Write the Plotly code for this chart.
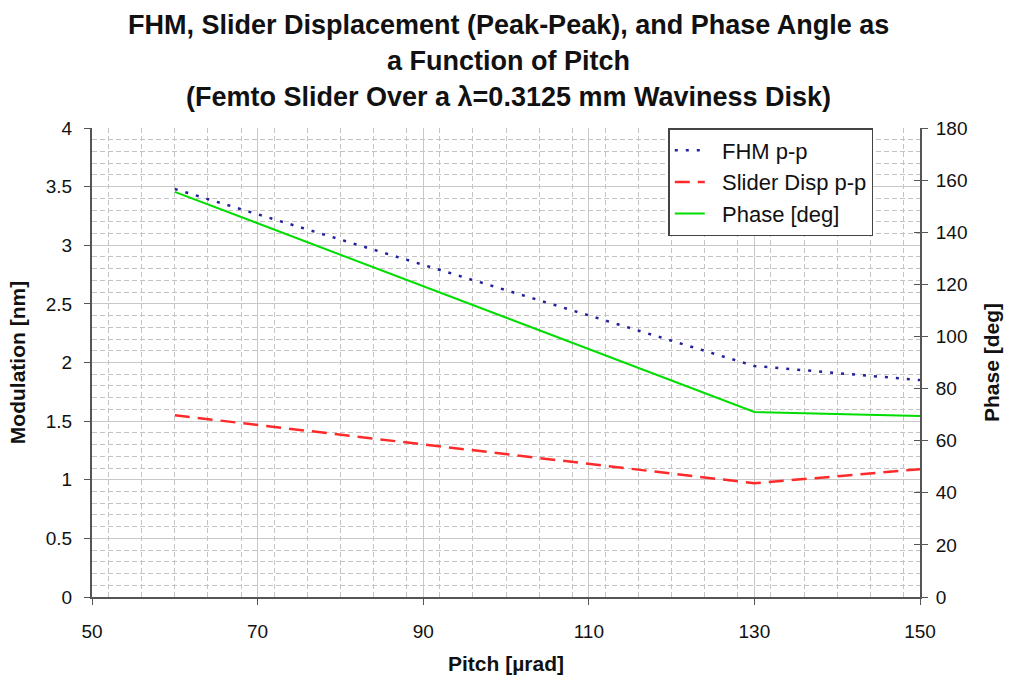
import plotly.graph_objects as go

pitch = [60, 130, 150]
fhm_pp = [3.48, 1.97, 1.85]
slider_pp = [1.55, 0.97, 1.09]
phase_deg = [155.5, 71.0, 69.5]

title_lines = [
    "FHM, Slider Displacement (Peak-Peak), and Phase Angle as",
    "a Function of Pitch",
    "(Femto Slider Over a λ=0.3125 mm Waviness Disk)",
]

font = "Liberation Sans, Arial, sans-serif"
pad = "\u00a0\u00a0"
fig = go.Figure()
fig.add_trace(go.Scatter(x=pitch, y=fhm_pp, name=pad + "FHM p-p", mode="lines",
                         line=dict(color="#22229a", width=2.5, dash="3px,8px")))
fig.add_trace(go.Scatter(x=pitch, y=slider_pp, name=pad + "Slider Disp p-p", mode="lines",
                         line=dict(color="#ff2a2a", width=2.5, dash="15px,8px")))
fig.add_trace(go.Scatter(x=pitch, y=phase_deg, name=pad + "Phase [deg]", mode="lines", yaxis="y2",
                         line=dict(color="#00dd00", width=2)))

minor_grid = dict(showgrid=True, gridcolor="#c4c4c4", griddash="5px,3px", gridwidth=1)
fig.update_layout(
    width=1011, height=683,
    margin=dict(l=92, r=91, t=128, b=86),
    paper_bgcolor="white", plot_bgcolor="white",
    font=dict(family=font, size=19, color="#111"),
    xaxis=dict(range=[50, 150], dtick=20, tick0=50, showline=True, linecolor="#555", linewidth=2,
               ticks="outside", ticklen=6, tickcolor="#555", ticklabelstandoff=10,
               showgrid=True, gridcolor="#c8c8c8", gridwidth=1, zeroline=False,
               minor=dict(dtick=4, **minor_grid),
               title=dict(text="<b>Pitch [µrad]</b>", font=dict(size=21), standoff=16)),
    yaxis=dict(range=[0, 4], dtick=0.5, showline=True, linecolor="#555", linewidth=2,
               ticks="outside", ticklen=6, tickcolor="#555", ticklabelstandoff=8,
               showgrid=True, gridcolor="#c8c8c8", gridwidth=1, zeroline=False,
               minor=dict(dtick=0.1, **minor_grid),
               title=dict(text="<b>Modulation [nm]</b>", font=dict(size=21), standoff=14)),
    yaxis2=dict(range=[0, 180], dtick=20, overlaying="y", side="right", showline=True,
                linecolor="#555", linewidth=2, ticks="outside", ticklen=6, tickcolor="#555",
                ticklabelstandoff=4, showgrid=False, zeroline=False,
                title=dict(text="<b>Phase [deg]</b>", font=dict(size=21), standoff=18)),
    yaxis3=dict(range=[0, 180], dtick=20, overlaying="y", side="right", anchor="x",
                showline=False, ticks="inside", ticklen=6, tickcolor="#555",
                showticklabels=False, showgrid=False, zeroline=False),
    legend=dict(x=0.696, y=1.0, xanchor="left", yanchor="top", bgcolor="white",
                bordercolor="#444", borderwidth=1.5, font=dict(size=22),
                tracegroupgap=0),
    showlegend=True,
)
# dummy trace to activate the inner tick axis
fig.add_trace(go.Scatter(x=[None], y=[None], yaxis="y3", showlegend=False, hoverinfo="skip"))

plot_top, plot_bottom = 128, 597
for txt, py in zip(title_lines, [25, 61, 97]):
    fig.add_annotation(text=f"<b>{txt}</b>", xref="paper", yref="paper",
                       x=(508 - 92) / 828, y=(plot_bottom - py) / (plot_bottom - plot_top),
                       xanchor="center", yanchor="middle", showarrow=False,
                       font=dict(size=27, family=font, color="#111"))
fig.write_html("out.html")
